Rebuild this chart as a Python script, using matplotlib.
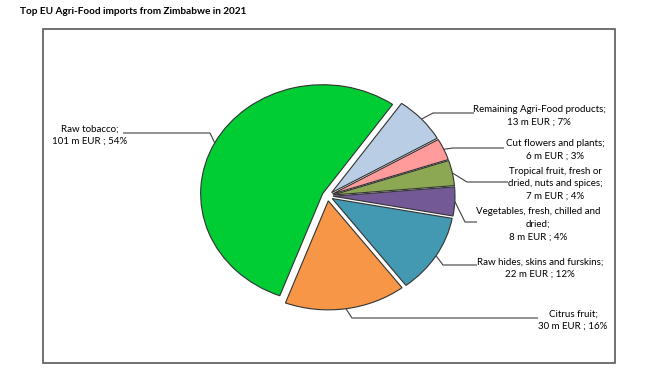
import matplotlib
matplotlib.use("Agg")
import matplotlib.pyplot as plt
from matplotlib.patches import Rectangle
import numpy as np

plt.rcParams['font.family'] = ['Lato', 'DejaVu Sans']

# ---- data (clockwise order, starting upper right) ----
categories = [
    "Remaining Agri-Food products;",
    "Cut flowers and plants;",
    "Tropical fruit, fresh or\ndried, nuts and spices;",
    "Vegetables, fresh, chilled and\ndried;",
    "Raw hides, skins and furskins;",
    "Citrus fruit;",
    "Raw tobacco;",
]
values_m_eur = [13, 6, 7, 8, 22, 30, 101]
percents = [7, 3, 4, 4, 12, 16, 54]
colors = ["#B9CDE5", "#FF9B9B", "#8CA852", "#735A96", "#4299B1", "#F79646", "#00CC33"]

title = "Top EU Agri-Food imports from Zimbabwe in 2021"

# ---- layout (pixels, origin top-left) ----
W, H = 653, 375
cx, cy = 327.5, 196.0     # pie centre
rx, ry = 122.0, 109.0     # pie radii in px

fig = plt.figure(figsize=(W / 100, H / 100), dpi=100)
fig.patch.set_facecolor("white")
ax = fig.add_axes([0, 0, 1, 1])


def p2d(px, py):
    return (px - cx) / rx, (cy - py) / ry


wedges, _ = ax.pie(values_m_eur, colors=colors, startangle=55, counterclock=False,
                   explode=[0.045] * len(values_m_eur), radius=1.0, center=(0, 0),
                   wedgeprops=dict(edgecolor="#333333", linewidth=0.8),
                   frame=True)
ax.set_xlim(-cx / rx, (W - cx) / rx)
ax.set_ylim(-(H - cy) / ry, cy / ry)
ax.set_aspect("auto")
ax.axis("off")

# frame
x0, y0 = p2d(43, 363)
x1, y1 = p2d(615, 29)
ax.add_patch(Rectangle((x0, y0), x1 - x0, y1 - y0, fill=False,
                       edgecolor="#595959", linewidth=1.2, zorder=0))

labels = [f"{c}\n{v} m EUR ; {p}%" for c, v, p in zip(categories, values_m_eur, percents)]

# label layout: (text centre x, text centre y, leader start x, leader y, elbow x)
label_pos = [
    (539, 115.5, 474, 113, 433),
    (555, 149.5, 504, 148, 453),
    (555, 184.0, 508, 182, 467),
    (538, 224.5, 477, 222, 465),
    (540, 268.0, 477, 265, 443),
    (573, 320.0, 538, 318, 352),
    (90, 135.0, 123, 133, 210),
]

for w, lab, (tx, ty, sx, sy, ex) in zip(wedges, labels, label_pos):
    mid = np.deg2rad((w.theta1 + w.theta2) / 2)
    px = w.center[0] + w.r * np.cos(mid)
    py = w.center[1] + w.r * np.sin(mid)
    a = p2d(sx, sy)
    b = p2d(ex, sy)
    ax.plot([a[0], b[0], px], [a[1], b[1], py], color="#404040", linewidth=0.8,
            solid_capstyle="butt", zorder=3)
    ttx, tty = p2d(tx, ty)
    ax.text(ttx, tty, lab, ha="center", va="center", multialignment="center",
            fontsize=7, color="#000000", linespacing=1.5)

fig.text(20 / W, 1 - 12 / H, title, ha="left", va="center", fontsize=7.2,
         fontweight="bold", color="#000000")

fig.savefig("out.png", dpi=100, facecolor="white")
